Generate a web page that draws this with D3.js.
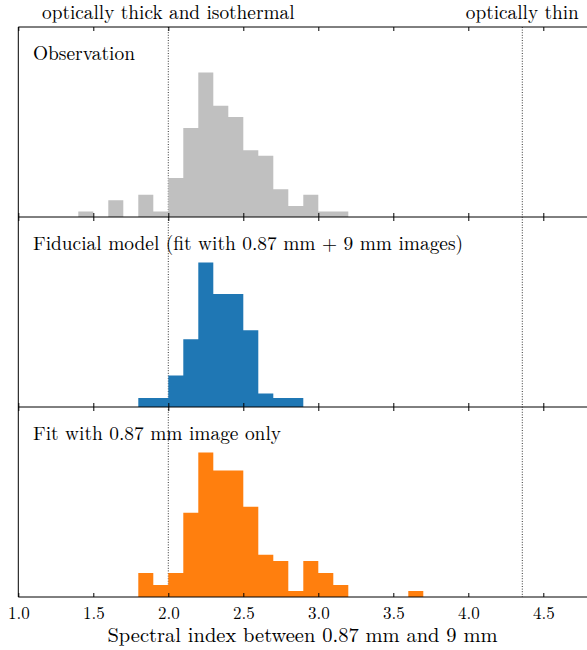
<html lang="en">
<head>
  <meta charset="UTF-8">
  <title>Spectral index histograms</title>
  <script src="https://cdn.jsdelivr.net/npm/d3@7"></script>
</head>
<body style="margin:0; background:#fff">
  <svg width="587" height="650"></svg>

  <script>
    // bin left edges (width 0.1) and counts, one pair per panel
    const binWidth = 0.1;
    const obsBins = [1.4, 1.5, 1.6, 1.7, 1.8, 1.9, 2.0, 2.1, 2.2, 2.3, 2.4, 2.5, 2.6, 2.7, 2.8, 2.9, 3.0, 3.1];
    const obsCounts = [1, 0, 3, 0, 4, 1, 7, 16, 26, 20, 18, 12, 11, 5, 2, 4, 1, 1];
    const fidBins = [1.8, 1.9, 2.0, 2.1, 2.2, 2.3, 2.4, 2.5, 2.6, 2.7, 2.8];
    const fidCounts = [2, 2, 7, 15, 32, 25, 25, 17, 3, 2, 2];
    const fitBins = [1.8, 1.9, 2.0, 2.1, 2.2, 2.3, 2.4, 2.5, 2.6, 2.7, 2.8, 2.9, 3.0, 3.1, 3.2, 3.3, 3.4, 3.5, 3.6];
    const fitCounts = [4, 2, 4, 14, 24, 21, 21, 15, 7, 6, 1, 6, 4, 2, 0, 0, 0, 0, 1];

    const panelLabels = [
      "Observation",
      "Fiducial model (fit with 0.87 mm + 9 mm images)",
      "Fit with 0.87 mm image only"
    ];
    const xTicks = [1.0, 1.5, 2.0, 2.5, 3.0, 3.5, 4.0, 4.5];
    const regimeLines = [2.0, 4.36];
    const regimeLabels = ["optically thick and isothermal", "optically thin"];
    const xLabel = "Spectral index between 0.87 mm and 9 mm";

    const panels = [
      { bins: obsBins, counts: obsCounts, color: "#c0c0c0" },
      { bins: fidBins, counts: fidCounts, color: "#1f77b4" },
      { bins: fitBins, counts: fitCounts, color: "#ff7f0e" }
    ];

    const font = '"Latin Modern Roman", "Liberation Serif", serif';

    // layout
    const plotLeft = 18.3, plotTop = 27, panelH = 190;
    const svg = d3.select("svg");

    const x = d3.scaleLinear()
      .domain([1.0, 4.8])
      .range([plotLeft, plotLeft + 570]);

    const plotBottom = plotTop + panelH * panels.length;

    // dotted reference lines through all panels
    svg.selectAll("line.regime")
      .data(regimeLines)
      .join("line")
      .attr("class", "regime")
      .attr("x1", d => x(d)).attr("x2", d => x(d))
      .attr("y1", plotTop).attr("y2", plotBottom)
      .attr("stroke", "#000")
      .attr("stroke-width", 0.8)
      .attr("stroke-dasharray", "1,1.6");

    svg.selectAll("text.regime")
      .data(regimeLabels)
      .join("text")
      .attr("class", "regime")
      .attr("x", (d, i) => x(regimeLines[i]))
      .attr("y", 19)
      .attr("text-anchor", "middle")
      .style("font-family", font)
      .style("font-size", "19.3px")
      .text(d => d);

    panels.forEach((p, i) => {
      const y0 = plotTop + i * panelH;
      const g = svg.append("g");

      const y = d3.scaleLinear()
        .domain([0, d3.max(p.counts) * 1.315])
        .range([y0 + panelH, y0]);

      // stepfilled histogram
      const pts = p.bins.map((b, k) => ({ x: b, y: p.counts[k] }));
      const last = pts[pts.length - 1];
      pts.push({ x: last.x + binWidth, y: last.y });

      const area = d3.area()
        .x(d => x(d.x))
        .y0(y(0))
        .y1(d => y(d.y))
        .curve(d3.curveStepAfter);

      g.append("path")
        .datum(pts)
        .attr("d", area)
        .attr("fill", p.color);

      // inward ticks on top and bottom
      g.append("g")
        .attr("transform", `translate(0,${y0})`)
        .call(d3.axisTop(x).tickValues(xTicks).tickSize(-4).tickFormat(""))
        .call(a => a.select(".domain").remove());

      const bAxis = g.append("g")
        .attr("transform", `translate(0,${y0 + panelH})`)
        .call(d3.axisBottom(x).tickValues(xTicks).tickSize(-4).tickPadding(10)
          .tickFormat(i === panels.length - 1 ? d3.format(".1f") : ""))
        .call(a => a.select(".domain").remove());
      bAxis.selectAll("line").attr("stroke", "#000");
      bAxis.selectAll("text")
        .attr("fill", "#000")
        .style("font-family", font)
        .style("font-size", "17px");

      g.append("text")
        .attr("x", 33)
        .attr("y", y0 + 33)
        .style("font-family", font)
        .style("font-size", "19.4px")
        .text(panelLabels[i]);
    });

    // frame lines (right edge falls outside the view)
    for (let i = 0; i <= panels.length; i++) {
      svg.append("line")
        .attr("x1", plotLeft).attr("x2", 587)
        .attr("y1", plotTop + i * panelH).attr("y2", plotTop + i * panelH)
        .attr("stroke", "#000").attr("stroke-width", 1);
    }
    svg.append("line")
      .attr("x1", plotLeft).attr("x2", plotLeft)
      .attr("y1", plotTop).attr("y2", plotBottom)
      .attr("stroke", "#000").attr("stroke-width", 1);

    svg.append("text")
      .attr("x", 302.5)
      .attr("y", 642)
      .attr("text-anchor", "middle")
      .style("font-family", font)
      .style("font-size", "20.5px")
      .text(xLabel);
  </script>
</body>
</html>
